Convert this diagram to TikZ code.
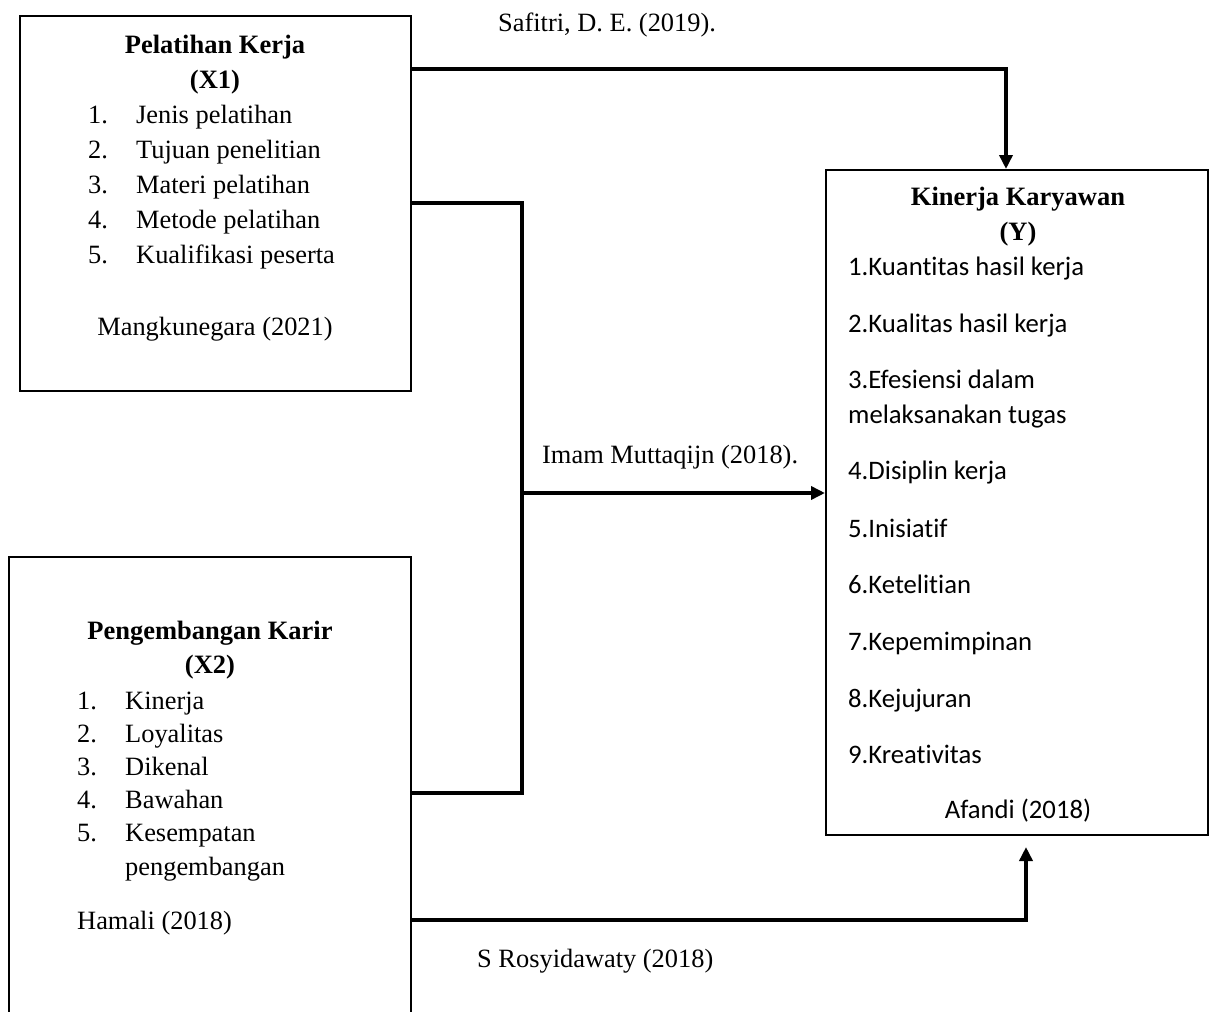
\documentclass[tikz,border=0pt]{standalone}
\usepackage{fontspec}
\setmainfont{Liberation Serif}
\newfontfamily\calfont[Ligatures={NoCommon}]{Carlito}
\usetikzlibrary{arrows.meta}
\begin{document}
\begin{tikzpicture}[x=1pt,y=-1pt,
  box/.style={draw, line width=2pt, inner sep=0pt, fill=none},
  conn/.style={line width=3.5pt, line join=miter},
  arr/.style={conn, -{Triangle[length=14pt,width=13pt]}},
  txt/.style={font=\fontsize{26.4}{30}\selectfont, inner sep=0pt, anchor=base west},
  ctxt/.style={txt, anchor=base},
  htxt/.style={font=\fontsize{26.5}{30}\selectfont\bfseries, inner sep=0pt, anchor=base},
  ytxt/.style={font=\calfont\fontsize{26.7}{30}\selectfont, inner sep=0pt, anchor=base west}]
\clip (0,0) rectangle (1213,1012);
\fill[white] (0,0) rectangle (1213,1012);

% boxes
\node[box, minimum width=391pt, minimum height=375pt] (x1) at (215.5,203.5) {};
\node[box, minimum width=402pt, minimum height=462pt] (x2) at (210,788) {};
\node[box, minimum width=382pt, minimum height=665pt] (y) at (1017,502.5) {};

% X1 text
\node[htxt] (x1h) at (215,53) {Pelatihan Kerja};
\node[htxt] (x1s) at (215,88) {(X1)};
\foreach \n/\t [count=\i from 0] in {1/Jenis pelatihan,2/Tujuan penelitian,3/Materi pelatihan,4/Metode pelatihan,5/Kualifikasi peserta}{
  \node[txt] (x1n\n) at (88,123+35*\i) {\n.};
  \node[txt] (x1t\n) at (136,123+35*\i) {\t};
}
\node[ctxt] (x1r) at (215,335) {Mangkunegara (2021)};

% X2 text
\node[htxt] (x2h) at (210,639) {Pengembangan Karir};
\node[htxt] (x2s) at (210,673) {(X2)};
\foreach \n/\t [count=\i from 0] in {1/Kinerja,2/Loyalitas,3/Dikenal,4/Bawahan,5/Kesempatan}{
  \node[txt] (x2n\n) at (77,709+33.2*\i) {\n.};
  \node[txt] (x2t\n) at (125,709+33.2*\i) {\t};
}
\node[txt] (x2t6) at (125,875) {pengembangan};
\node[txt] (x2r) at (77,929) {Hamali (2018)};

% Y text
\node[htxt] (yh) at (1018,205) {Kinerja Karyawan};
\node[htxt] (ys) at (1018,240) {(Y)};
\node[ytxt] (y1) at (848,275) {1.Kuantitas hasil kerja};
\node[ytxt] (y2) at (848,332) {2.Kualitas hasil kerja};
\node[ytxt] (y3) at (848,388) {3.Efesiensi dalam};
\node[ytxt] (y3b) at (848,423) {melaksanakan tugas};
\node[ytxt] (y4) at (848,479) {4.Disiplin kerja};
\node[ytxt] (y5) at (848,537) {5.Inisiatif};
\node[ytxt] (y6) at (848,593) {6.Ketelitian};
\node[ytxt] (y7) at (848,650) {7.Kepemimpinan};
\node[ytxt] (y8) at (848,707) {8.Kejujuran};
\node[ytxt] (y9) at (848,763) {9.Kreativitas};
\node[font=\calfont\fontsize{26.7}{30}\selectfont, inner sep=0pt, anchor=base] (yr) at (1018,818) {Afandi (2018)};

% connector labels
\node[txt] (l1) at (498,31) {Safitri, D. E. (2019).};
\node[txt] (l2) at (542,463) {Imam Muttaqijn (2018).};
\node[txt] (l3) at (477,967) {S Rosyidawaty (2018)};

% connectors
\coordinate (c1) at (1006,69);
\draw[arr] (x1.east |- c1) -- (c1) -- (c1 |- y.north);

\coordinate (j1) at (522,203);
\coordinate (j2) at (522,793);
\draw[conn] (x1.east |- j1) -- (j1) -- (j2) -- (x2.east |- j2);
\coordinate (m) at (522,493);
\draw[arr] (m) -- (y.west |- m);

\coordinate (c3) at (1026,920);
\coordinate (c4) at (1026,847);
\draw[arr] (x2.east |- c3) -- (c3) -- (c4);
\end{tikzpicture}
\end{document}
